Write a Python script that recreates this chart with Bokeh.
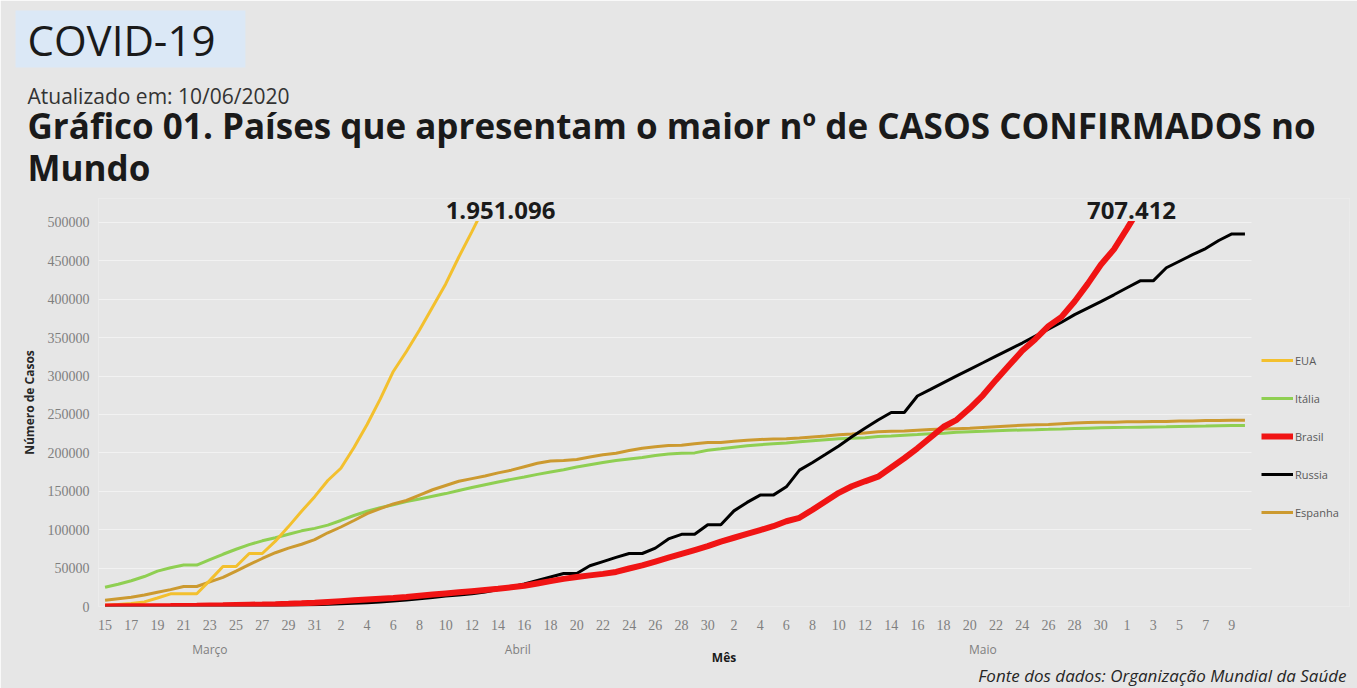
import pandas as pd
from bokeh.plotting import figure
from bokeh.models import (Range1d, LinearAxis, FixedTicker, Label, Legend, LegendItem,
                          NumeralTickFormatter, BoxAnnotation, Title)
from bokeh.embed import file_html
from bokeh.resources import INLINE

# ---------------- data ----------------
datas = pd.date_range("2020-03-15", "2020-06-10")          # categorias diárias
dias = [str(d.day) for d in datas]
meses = ["Março", "Abril", "Maio"]
grupos_mes = {"Março": [3], "Abril": [4], "Maio": [5, 6]}  # como no gráfico original

eua = [1700, 2500, 4000, 6000, 11000, 16500, 16500, 16500, 34000, 52000,
       52000, 69000, 69000, 85000, 104000, 124000, 143000, 164000, 180000, 207000,
       237000, 270000, 306000, 332000, 360000, 390000, 420000, 455000, 488000, 522000]

italia = [25000, 29000, 33500, 39000, 46000, 50500, 54000, 54000, 61000, 68000,
          74500, 80500, 85500, 89500, 94000, 98500, 101700, 106000, 112000, 118500,
          124000, 128500, 132500, 136500, 140000, 143500, 147000, 151000, 155000, 158500,
          162000, 165500, 168500, 172000, 175000, 178000, 181500, 184500, 187500, 190000,
          192000, 194000, 196500, 198500, 199500, 200000, 203500, 205400, 207400, 209300,
          210700, 211900, 213000, 214400, 215800, 217200, 218300, 219100, 219800, 221200,
          222100, 223100, 223900, 224800, 225400, 226700, 227400, 228000, 228700, 229300,
          229900, 230200, 230600, 231100, 231700, 232200, 232700, 233000, 233200, 233500,
          233800, 234000, 234500, 234800, 235000, 235300, 235600, 235800]

brasil = [150, 200, 250, 350, 450, 600, 800, 1000, 1300, 1600,
          2000, 2300, 2600, 3000, 3500, 4200, 5000, 6000, 7000, 8000,
          9000, 10000, 11000, 12500, 14000, 15500, 17000, 18500, 20000, 21500,
          23000, 25000, 27000, 30000, 33000, 36000, 38500, 40500, 42500, 45000,
          49500, 53500, 58500, 63500, 68500, 73500, 78500, 84500, 89500, 94500,
          99500, 104500, 111000, 115500, 126000, 137000, 148000, 156500, 163000, 169000,
          181000, 193000, 206000, 220000, 234000, 243000, 258000, 275000, 295000, 314000,
          333000, 348000, 365000, 377000, 397000, 420000, 445000, 465000, 492000, 520000]

russia = [60, 90, 100, 110, 150, 200, 250, 300, 400, 500,
          650, 800, 1000, 1300, 1500, 1800, 2300, 2800, 3500, 4100,
          5000, 6000, 7000, 8500, 10000, 11800, 13500, 15000, 16500, 19000,
          22000, 25500, 29500, 34000, 38500, 43000, 43000, 53000, 58500, 64000,
          69000, 69000, 76000, 88000, 94000, 94000, 106500, 106500, 124500, 135500,
          145000, 145000, 155800, 177500, 187500, 198200, 209000, 221000, 232000, 242800,
          252500, 252500, 274000, 282700, 291500, 300200, 308800, 317300, 326000, 334500,
          343000, 352000, 361000, 370000, 380000, 388500, 397000, 405800, 415000, 424000,
          424000, 441000, 449500, 458000, 466000, 476500, 485000, 485000]

espanha = [8000, 10000, 12000, 15000, 18500, 22000, 26000, 26000, 32000, 38000,
           46000, 54500, 62500, 70000, 76000, 81000, 87000, 96000, 103500, 112000,
           121000, 127500, 133500, 138000, 145000, 152000, 157500, 163000, 166500, 170000,
           174000, 177500, 182000, 186500, 189500, 190000, 191500, 194500, 197500, 199500,
           203000, 206000, 208000, 209500, 210000, 212000, 213500, 213500, 215000, 216500,
           217500, 218000, 218500, 219500, 220800, 222000, 223500, 224500, 226000, 227500,
           228000, 228500, 229500, 230500, 231000, 231500, 232000, 233000, 234000, 235000,
           236000, 236500, 237000, 238000, 239000, 239500, 240000, 240000, 240500, 240500,
           241000, 241000, 241500, 241500, 242000, 242000, 242500, 242500]

eua_total = 1951096
brasil_total = 707412
y_max = 500000
y_ticks = list(range(0, y_max + 1, 50000))

# ---------------- style / layout ----------------
BG = "#e6e6e6"
C_EUA, C_ITA, C_BRA, C_RUS, C_ESP = "#f3c02e", "#8fcf52", "#f01414", "#000000", "#cc9a30"
FONT = "Open Sans"
GRID = "#f2f2f2"

W, H = 1357, 688
LEFT, TOP, BOTTOM, RIGHT = 98, 197, 82, 8     # frame: x 98..1349, y 197..606
PLOT_W = 1153                                 # px of the plot area (days -0.5 .. n-0.5)
PLOT_PX = 385                                 # px for 0..500000
n = len(datas)
frame_w = W - LEFT - RIGHT
frame_h = H - TOP - BOTTOM
x_end = -0.5 + n * frame_w / PLOT_W
y_end = y_max * frame_h / PLOT_PX

p = figure(width=W, height=H, x_range=Range1d(-0.5, x_end), y_range=Range1d(0, y_end),
           output_backend="svg", toolbar_location=None,
           min_border_left=LEFT, min_border_right=RIGHT, min_border_top=TOP,
           min_border_bottom=BOTTOM,
           background_fill_color=BG, border_fill_color=BG, outline_line_color=None)

p.xgrid.visible = False
p.ygrid.grid_line_color = GRID
p.ygrid.ticker = FixedTicker(ticks=y_ticks)

xa = p.xaxis[0]
xa.ticker = FixedTicker(ticks=list(range(0, n, 2)))
xa.major_label_overrides = {i: dias[i] for i in range(0, n, 2)}
xa.axis_line_color = None
xa.major_tick_line_color = None
xa.minor_tick_line_color = None
xa.major_tick_out = 0
xa.major_tick_in = 0
xa.major_label_standoff = 13
xa.major_label_text_font = "Liberation Serif"
xa.major_label_text_font_size = "14px"
xa.major_label_text_color = "#7f7f7f"

centros = []
for m in meses:
    idx = [i for i, d in enumerate(datas) if d.month in grupos_mes[m]]
    centros.append((idx[0] + idx[-1]) / 2)
ma = LinearAxis(ticker=FixedTicker(ticks=centros),
                major_label_overrides={c: m for c, m in zip(centros, meses)},
                axis_line_color=None, major_tick_line_color=None, minor_tick_line_color=None,
                major_tick_out=0, major_tick_in=0,
                major_label_standoff=8, major_label_text_font=FONT,
                major_label_text_font_size="12px", major_label_text_color="#7f7f7f",
                axis_label="Mês", axis_label_standoff=-12, axis_label_text_font=FONT,
                axis_label_text_font_size="12px", axis_label_text_font_style="bold",
                axis_label_text_color="#1a1a1a")
p.add_layout(ma, "below")

ya = p.yaxis[0]
ya.ticker = FixedTicker(ticks=y_ticks)
ya.formatter = NumeralTickFormatter(format="0")
ya.axis_line_color = None
ya.major_tick_line_color = None
ya.minor_tick_line_color = None
ya.major_tick_out = 0
ya.major_tick_in = 0
ya.major_label_standoff = 9
ya.major_label_text_font = "Liberation Serif"
ya.major_label_text_font_size = "14px"
ya.major_label_text_color = "#7f7f7f"
ya.axis_label = "Número de Casos"
ya.axis_label_text_font = FONT
ya.axis_label_text_font_size = "12px"
ya.axis_label_text_font_style = "bold"
ya.axis_label_text_color = "#262626"
ya.axis_label_standoff = 7

r_ita = p.line(list(range(len(italia))), italia, line_color=C_ITA, line_width=3)
r_esp = p.line(list(range(len(espanha))), espanha, line_color=C_ESP, line_width=3)
r_eua = p.line(list(range(len(eua))), eua, line_color=C_EUA, line_width=3)
r_rus = p.line(list(range(len(russia))), russia, line_color=C_RUS, line_width=3)
r_bra = p.line(list(range(len(brasil))), brasil, line_color=C_BRA, line_width=6)

# plot area ends at 500000 and after the last day: mask what lies beyond
p.add_layout(BoxAnnotation(bottom=y_max * (1 + 1.5 / PLOT_PX), fill_color=BG, fill_alpha=1,
                           line_color=None))
p.add_layout(BoxAnnotation(left=n - 0.5, fill_color=BG, fill_alpha=1, line_color=None))

fmt = lambda v: f"{v:,}".replace(",", ".")
for total, cx in ((eua_total, 402), (brasil_total, 1033)):
    p.add_layout(Label(x=cx, y=PLOT_PX + 11, x_units="screen", y_units="screen", text=fmt(total),
                       text_align="center", text_baseline="alphabetic", text_font=FONT,
                       text_font_size="24px", text_font_style="bold", text_color="#1a1a1a"))

legend = Legend(items=[LegendItem(label="EUA", renderers=[r_eua]),
                       LegendItem(label="Itália", renderers=[r_ita]),
                       LegendItem(label="Brasil", renderers=[r_bra]),
                       LegendItem(label="Russia", renderers=[r_rus]),
                       LegendItem(label="Espanha", renderers=[r_esp])],
                location=(1163, 84), orientation="vertical", glyph_width=32, glyph_height=20,
                label_height=20, spacing=18, padding=0, margin=0, label_standoff=2,
                background_fill_alpha=0, border_line_color=None,
                label_text_font=FONT, label_text_font_size="11px", label_text_color="#595959")
p.add_layout(legend)

# titles, from the plot outward
p.add_layout(Title(text="Fonte dos dados: Organização Mundial da Saúde", align="right",
                   offset=3, standoff=-14, text_font=FONT, text_font_size="17px",
                   text_font_style="italic", text_color="#262626"), "below")
p.add_layout(Title(text="Mundo", align="left", offset=-71, standoff=15, text_font=FONT,
                   text_font_size="35px", text_font_style="bold", text_color="#1a1a1a"), "above")
p.add_layout(Title(text="Gráfico 01. Países que apresentam o maior nº de CASOS CONFIRMADOS no",
                   align="left", offset=-71, standoff=-29, text_font=FONT, text_font_size="35px",
                   text_font_style="bold", text_color="#1a1a1a"), "above")
p.add_layout(Title(text="Atualizado em: 10/06/2020", align="left", offset=-71, standoff=9,
                   text_font=FONT, text_font_size="21px", text_font_style="normal",
                   text_color="#333333"), "above")
p.add_layout(Title(text="COVID-19", align="left", offset=-83, standoff=16, text_font=FONT,
                   text_font_size="42px", text_font_style="normal", text_color="#1a1a1a",
                   background_fill_color="#dbe8f6",
                   padding=dict(left=12, right=30, top=0, bottom=0)), "above")

open("out.html", "w").write(file_html(p, INLINE))
